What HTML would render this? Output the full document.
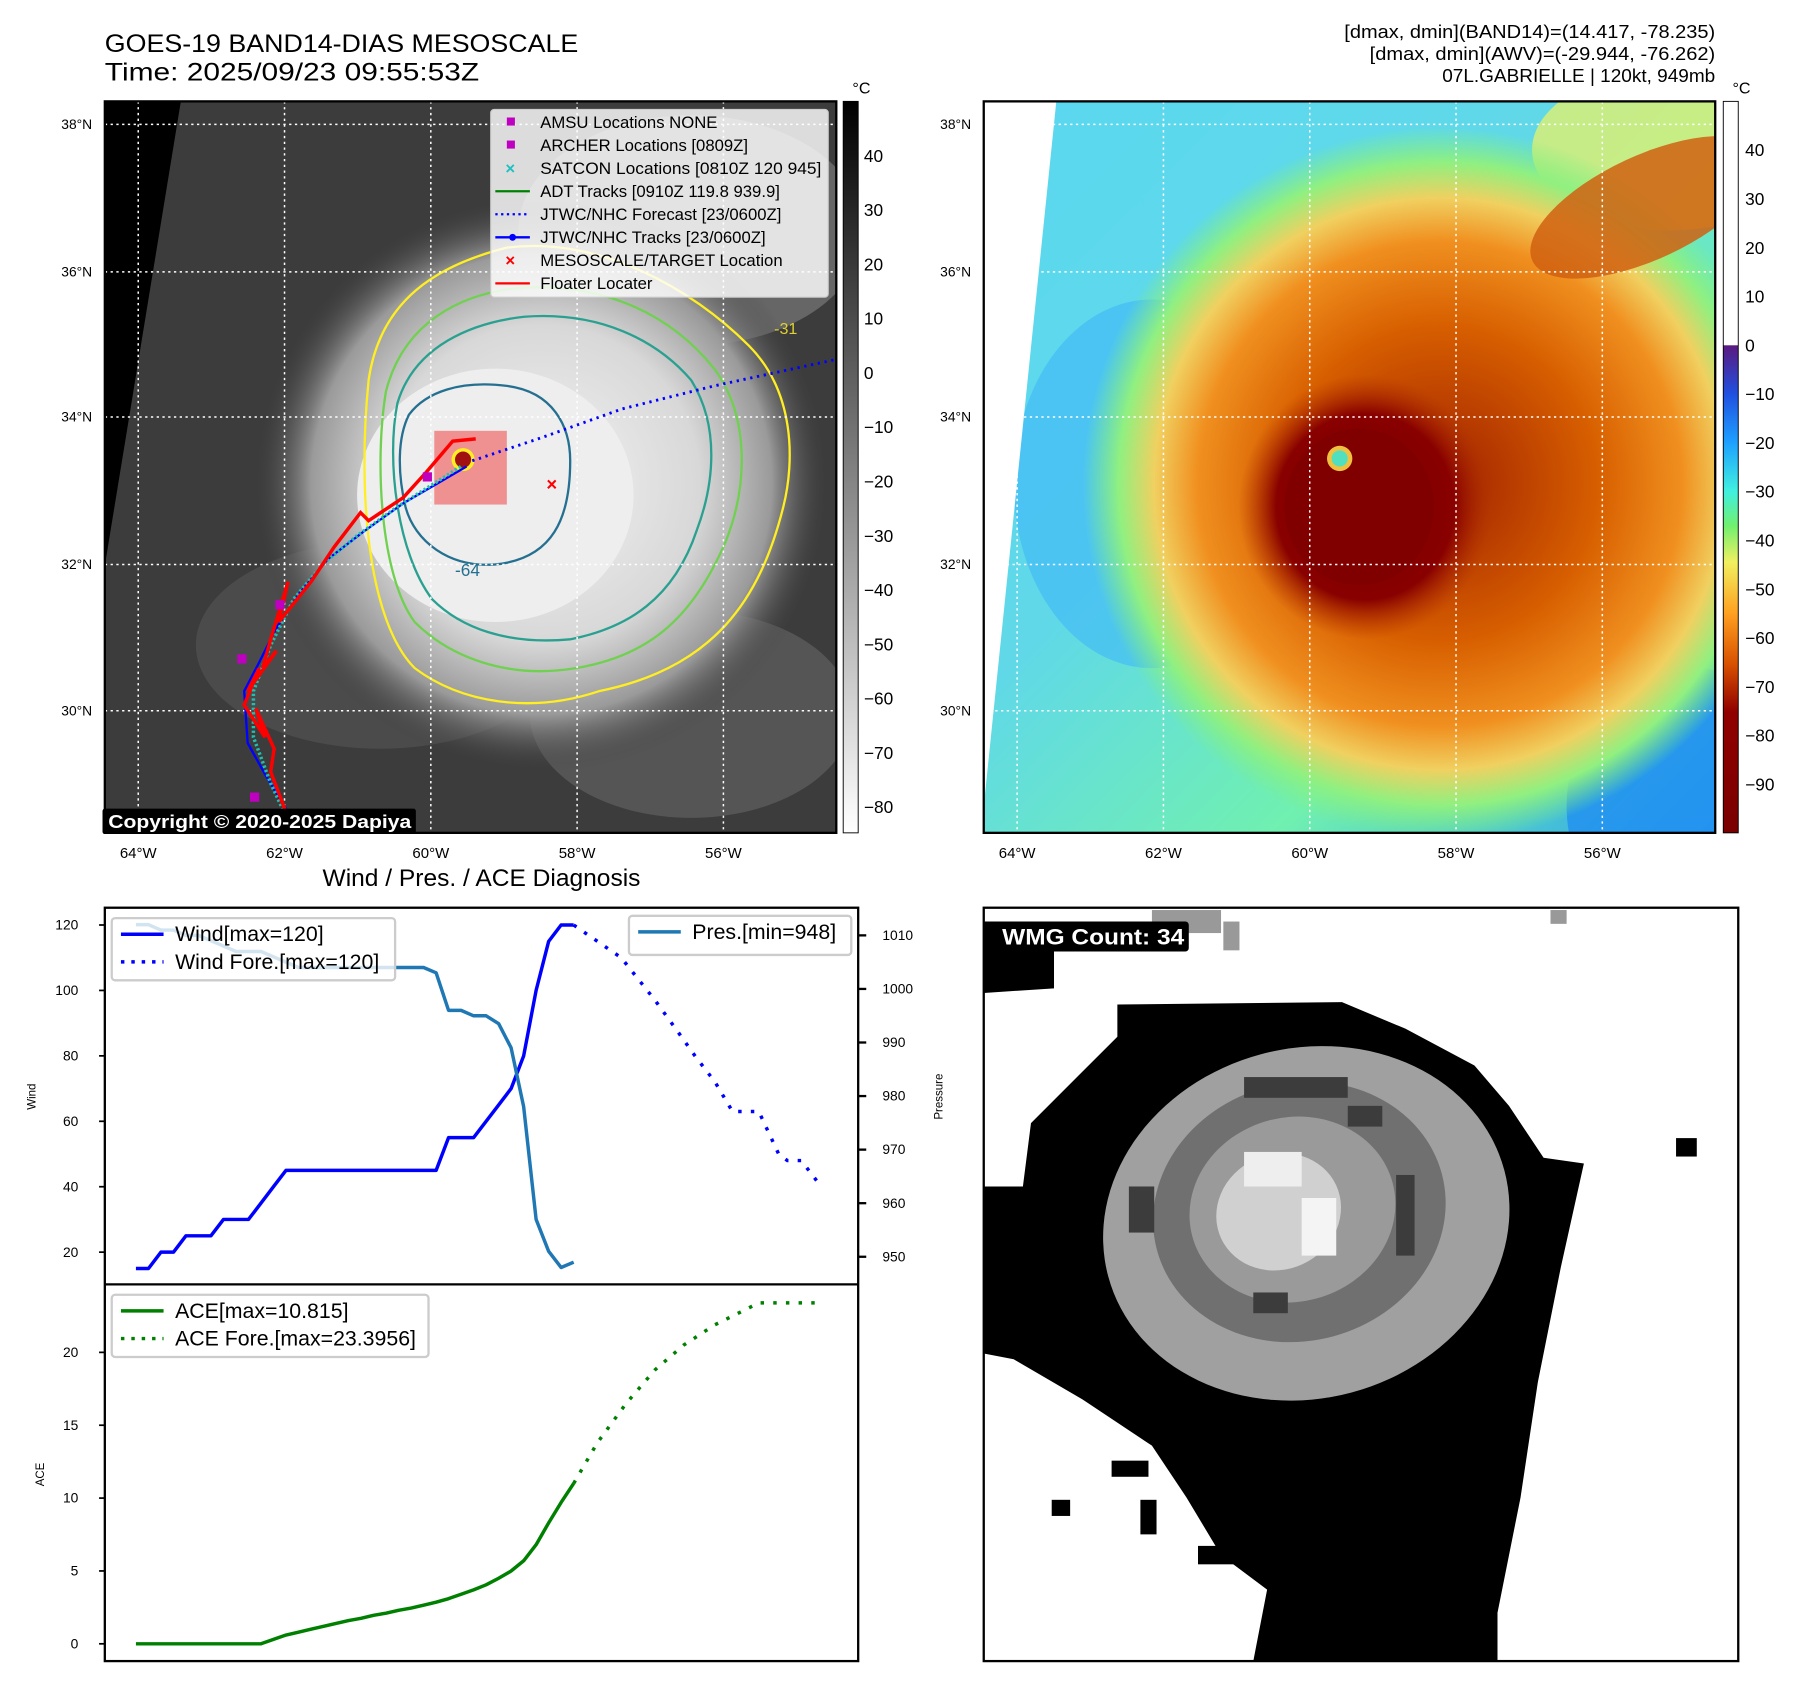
<!DOCTYPE html>
<html><head><meta charset="utf-8"><style>
html,body{margin:0;padding:0;background:#fff;}
svg{display:block;font-family:"Liberation Sans","DejaVu Sans",sans-serif;}
</style></head><body>
<svg id="root" width="1797" height="1690" viewBox="0 0 1560 1467.1" preserveAspectRatio="none" xmlns="http://www.w3.org/2000/svg">
<defs>
<linearGradient id="cb1" x1="0" y1="0" x2="0" y2="1"><stop offset="0" stop-color="#000"/><stop offset="1" stop-color="#fff"/></linearGradient>
<linearGradient id="cb2" x1="0" y1="0" x2="0" y2="1">
<stop offset="0" stop-color="#fff"/><stop offset="0.333" stop-color="#fff"/><stop offset="0.334" stop-color="#5a1a80"/>
<stop offset="0.40" stop-color="#2050e0"/><stop offset="0.466" stop-color="#1ea0ff"/><stop offset="0.533" stop-color="#40f0e0"/>
<stop offset="0.58" stop-color="#70f070"/><stop offset="0.63" stop-color="#f0f060"/><stop offset="0.70" stop-color="#ffa020"/>
<stop offset="0.77" stop-color="#d85000"/><stop offset="0.835" stop-color="#900000"/><stop offset="1" stop-color="#7a0000"/></linearGradient>
<radialGradient id="cloud1" cx="0.5" cy="0.5" r="0.5"><stop offset="0" stop-color="#f4f4f4"/><stop offset="0.55" stop-color="#d8d8d8"/><stop offset="0.8" stop-color="#9a9a9a"/><stop offset="1" stop-color="#3c3c3c" stop-opacity="0"/></radialGradient>
<linearGradient id="bg2" x1="0" y1="0" x2="1" y2="1"><stop offset="0" stop-color="#5ad8f0"/><stop offset="0.4" stop-color="#60d8e8"/><stop offset="0.7" stop-color="#70f0b0"/><stop offset="1" stop-color="#2aa0f0"/></linearGradient>
<radialGradient id="storm2" cx="0.5" cy="0.5" r="0.5"><stop offset="0" stop-color="#a02000"/><stop offset="0.45" stop-color="#d86000"/><stop offset="0.68" stop-color="#f09020"/><stop offset="0.8" stop-color="#f0d060"/><stop offset="0.9" stop-color="#90f080"/><stop offset="1" stop-color="#80f080" stop-opacity="0"/></radialGradient>
<radialGradient id="core2" cx="0.5" cy="0.5" r="0.5"><stop offset="0" stop-color="#800000"/><stop offset="0.7" stop-color="#880000"/><stop offset="1" stop-color="#b03000" stop-opacity="0"/></radialGradient>
<clipPath id="clip1"><rect x="91" y="88" width="635" height="635"/></clipPath>
<clipPath id="clip2"><rect x="854" y="88" width="635" height="635"/></clipPath>
</defs>

<text x="91" y="45" font-size="22" textLength="411" lengthAdjust="spacingAndGlyphs">GOES-19 BAND14-DIAS MESOSCALE</text>
<text x="91" y="70" font-size="22" textLength="325" lengthAdjust="spacingAndGlyphs">Time: 2025/09/23 09:55:53Z</text>
<g font-size="16" text-anchor="end">
<text x="1489" y="33" textLength="322" lengthAdjust="spacingAndGlyphs">[dmax, dmin](BAND14)=(14.417, -78.235)</text>
<text x="1489" y="52" textLength="300" lengthAdjust="spacingAndGlyphs">[dmax, dmin](AWV)=(-29.944, -76.262)</text>
<text x="1489" y="71" textLength="237" lengthAdjust="spacingAndGlyphs">07L.GABRIELLE | 120kt, 949mb</text></g>

<!-- Map 1 -->
<g clip-path="url(#clip1)">
<rect x="91" y="88" width="635" height="635" fill="#3c3c3c"/>
<ellipse cx="330" cy="560" rx="160" ry="90" fill="#555" opacity="0.6"/>
<ellipse cx="600" cy="620" rx="140" ry="90" fill="#666" opacity="0.6"/>
<ellipse cx="600" cy="200" rx="150" ry="100" fill="#777" opacity="0.7"/>
<ellipse cx="470" cy="420" rx="250" ry="250" fill="url(#cloud1)"/>
<ellipse cx="430" cy="430" rx="120" ry="110" fill="#eee"/>
<polygon points="91,88 157,88 91,491" fill="#000"/>
<path d="M320,330 C330,260 380,230 440,215 C520,205 600,250 650,300 C690,340 690,400 680,440 C660,520 620,580 520,600 C460,620 400,610 360,580 C320,540 310,430 320,330 Z" fill="none" stroke="#ffee22" stroke-width="2"/>
<path d="M335,340 C350,280 400,255 450,250 C520,245 580,270 620,320 C650,360 650,420 630,470 C600,540 560,570 500,580 C440,590 390,570 360,540 C330,500 325,400 335,340 Z" fill="none" stroke="#70d050" stroke-width="2"/>
<path d="M345,350 C360,300 410,280 455,275 C520,270 570,295 600,330 C625,370 620,420 605,460 C585,520 545,545 495,555 C440,560 400,545 375,520 C345,480 335,400 345,350 Z" fill="none" stroke="#2aa090" stroke-width="2"/>
<path d="M355,360 C370,340 400,330 440,335 C480,340 495,370 495,400 C495,450 480,485 430,490 C390,493 360,470 352,440 C345,410 345,380 355,360 Z" fill="none" stroke="#257090" stroke-width="2"/>
<rect x="377" y="374" width="63" height="64" fill="#f08080" opacity="0.85"/>
<circle cx="402" cy="399" r="10" fill="#ffee22"/><circle cx="402" cy="399" r="7" fill="#a01010"/>
<g stroke="#fff" stroke-width="1.3" stroke-dasharray="2,3">
<line x1="120" y1="88" x2="120" y2="723"/><line x1="247" y1="88" x2="247" y2="723"/><line x1="374" y1="88" x2="374" y2="723"/><line x1="501" y1="88" x2="501" y2="723"/><line x1="628" y1="88" x2="628" y2="723"/>
<line x1="91" y1="108" x2="726" y2="108"/><line x1="91" y1="236" x2="726" y2="236"/><line x1="91" y1="362" x2="726" y2="362"/><line x1="91" y1="490" x2="726" y2="490"/><line x1="91" y1="617" x2="726" y2="617"/></g>
<polyline points="410,400 470,380 540,355 620,335 726,312" fill="none" stroke="#0000ff" stroke-width="2.5" stroke-dasharray="2,4"/>
<polyline points="405,405 350,437 315,462 285,485 260,515 240,545 225,575 212,600 215,645 230,672 250,705 260,723" fill="none" stroke="#0000ff" stroke-width="2"/>
<polyline points="400,405 345,440 310,465 280,490 255,520 235,560 220,600 220,640 235,680 255,723" fill="none" stroke="#20c0b0" stroke-width="3" stroke-dasharray="2,2"/>
<polyline points="413,381 393,383 370,410 350,432 320,452 313,445 290,475 270,505 242,540 250,505 235,555 228,580 240,565 215,600 225,580 212,612 230,640 222,615 238,650 235,670 255,723" fill="none" stroke="#ff0000" stroke-width="3"/>
<text x="479" y="426" font-size="16" fill="#f00" text-anchor="middle" font-weight="bold">×</text>
<g fill="#c000c0"><rect x="367" y="410" width="8" height="8"/><rect x="206" y="568" width="8" height="8"/><rect x="217" y="688" width="8" height="8"/><rect x="239" y="521" width="8" height="8"/></g>
<text x="672" y="290" font-size="14" fill="#e0d030">-31</text>
<text x="395" y="500" font-size="15" fill="#257090">-64</text>
</g>
<rect x="91" y="88" width="635" height="635" fill="none" stroke="#000" stroke-width="2"/>
<g font-size="14.5">
<rect x="426" y="95" width="293" height="163" rx="3" fill="#fff" fill-opacity="0.82" stroke="#ccc"/>
<rect x="440" y="102" width="7" height="7" fill="#c000c0"/><text x="469" y="111">AMSU Locations NONE</text>
<rect x="440" y="122" width="7" height="7" fill="#c000c0"/><text x="469" y="131">ARCHER Locations [0809Z]</text>
<text x="443" y="151" fill="#20c0c0" text-anchor="middle" font-weight="bold">×</text><text x="469" y="151" textLength="244" lengthAdjust="spacingAndGlyphs">SATCON Locations [0810Z 120 945]</text>
<line x1="430" y1="166" x2="460" y2="166" stroke="#008000" stroke-width="2"/><text x="469" y="171">ADT Tracks [0910Z 119.8 939.9]</text>
<line x1="430" y1="186" x2="460" y2="186" stroke="#0000ff" stroke-width="2" stroke-dasharray="2,3"/><text x="469" y="191">JTWC/NHC Forecast [23/0600Z]</text>
<line x1="430" y1="206" x2="460" y2="206" stroke="#0000ff" stroke-width="2"/><circle cx="445" cy="206" r="3" fill="#00f"/><text x="469" y="211">JTWC/NHC Tracks [23/0600Z]</text>
<text x="443" y="231" fill="#f00" text-anchor="middle" font-weight="bold">×</text><text x="469" y="231">MESOSCALE/TARGET Location</text>
<line x1="430" y1="246" x2="460" y2="246" stroke="#f00" stroke-width="2"/><text x="469" y="251">Floater Locater</text></g>
<rect x="89" y="702" width="272" height="22" rx="2" fill="#000"/>
<text x="94" y="719" font-size="16" font-weight="bold" fill="#fff" textLength="263" lengthAdjust="spacingAndGlyphs">Copyright © 2020-2025 Dapiya</text>
<rect x="732" y="88" width="13" height="635" fill="url(#cb1)" stroke="#000" stroke-width="0.8"/>
<text x="740" y="81" font-size="14">°C</text>
<g id="cb1labels" font-size="15"></g>

<!-- Map 2 -->
<g clip-path="url(#clip2)">
<rect x="854" y="88" width="635" height="635" fill="url(#bg2)"/>
<ellipse cx="1000" cy="420" rx="120" ry="160" fill="#40b8f8" opacity="0.6"/>
<ellipse cx="1470" cy="700" rx="110" ry="120" fill="#2090f0" opacity="0.8"/>
<ellipse cx="1450" cy="130" rx="120" ry="70" fill="#e0f070" opacity="0.8"/>
<ellipse cx="1250" cy="420" rx="310" ry="310" fill="url(#storm2)"/>
<ellipse cx="1430" cy="180" rx="110" ry="45" fill="#d06010" opacity="0.85" transform="rotate(-25 1430 180)"/>
<ellipse cx="1185" cy="440" rx="110" ry="115" fill="url(#core2)"/>
<ellipse cx="1180" cy="440" rx="65" ry="68" fill="#800000"/>
<circle cx="1163" cy="398" r="11" fill="#f0c040"/><circle cx="1163" cy="398" r="7" fill="#50e0c0"/>
<polygon points="854,88 917,88 854,700" fill="#fff"/>
<g stroke="#fff" stroke-width="1.3" stroke-dasharray="2,3">
<line x1="883" y1="88" x2="883" y2="723"/><line x1="1010" y1="88" x2="1010" y2="723"/><line x1="1137" y1="88" x2="1137" y2="723"/><line x1="1264" y1="88" x2="1264" y2="723"/><line x1="1391" y1="88" x2="1391" y2="723"/>
<line x1="854" y1="108" x2="1489" y2="108"/><line x1="854" y1="236" x2="1489" y2="236"/><line x1="854" y1="362" x2="1489" y2="362"/><line x1="854" y1="490" x2="1489" y2="490"/><line x1="854" y1="617" x2="1489" y2="617"/></g>
</g>
<rect x="854" y="88" width="635" height="635" fill="none" stroke="#000" stroke-width="2"/>
<rect x="1496" y="88" width="13" height="635" fill="url(#cb2)" stroke="#000" stroke-width="0.8"/>
<text x="1504" y="81" font-size="14">°C</text>
<g id="cb2labels" font-size="15"></g>

<g id="maplabels"></g>

<!-- WMG panel -->
<g>
<rect x="854" y="788" width="655" height="654" fill="#fff"/>
<polygon points="970,872 1165,870 1220,893 1280,925 1310,960 1340,1005 1375,1010 1355,1100 1335,1200 1320,1300 1300,1400 1300,1442 1088,1442 1100,1380 1060,1350 1030,1300 1000,1255 940,1215 880,1180 854,1175 854,1030 888,1030 895,975 940,930 970,900" fill="#000"/>
<polygon points="854,800 915,800 915,858 854,862" fill="#000"/>
<rect x="965" y="1268" width="32" height="14" fill="#000"/><rect x="913" y="1302" width="16" height="14" fill="#000"/><rect x="990" y="1302" width="14" height="30" fill="#000"/><rect x="1040" y="1342" width="32" height="16" fill="#000"/><rect x="1455" y="988" width="18" height="16" fill="#000"/>
<rect x="1062" y="800" width="14" height="25" fill="#999"/><rect x="1346" y="790" width="14" height="12" fill="#999"/><rect x="1000" y="790" width="60" height="20" fill="#999"/>
<ellipse cx="1134" cy="1062" rx="178" ry="152" fill="#a0a0a0" transform="rotate(-15 1134 1062)"/>
<ellipse cx="1128" cy="1052" rx="128" ry="112" fill="#707070" transform="rotate(-15 1128 1052)"/>
<ellipse cx="1122" cy="1050" rx="90" ry="80" fill="#9a9a9a" transform="rotate(-15 1122 1050)"/>
<ellipse cx="1110" cy="1052" rx="55" ry="50" fill="#d0d0d0" transform="rotate(-25 1110 1052)"/>
<rect x="1080" y="1000" width="50" height="30" fill="#eee"/><rect x="1130" y="1040" width="30" height="50" fill="#f4f4f4"/>
<rect x="1080" y="935" width="90" height="18" fill="#3c3c3c"/><rect x="1170" y="960" width="30" height="18" fill="#3c3c3c"/>
<rect x="1212" y="1020" width="16" height="70" fill="#3c3c3c"/><rect x="980" y="1030" width="22" height="40" fill="#3c3c3c"/>
<rect x="1088" y="1122" width="30" height="18" fill="#3c3c3c"/>
<rect x="862" y="800" width="170" height="26" rx="3" fill="#000"/>
<text x="870" y="820" font-size="19" font-weight="bold" fill="#fff" textLength="158" lengthAdjust="spacingAndGlyphs">WMG Count: 34</text>
<rect x="854" y="788" width="655" height="654" fill="none" stroke="#000" stroke-width="2"/>
</g>

<text x="418" y="769" font-size="21" text-anchor="middle" textLength="276" lengthAdjust="spacingAndGlyphs">Wind / Pres. / ACE Diagnosis</text>
<g id="chart"></g>
</svg>
<script>
// ---- chart data ----
const obsIndex = [0,1,2,3,4,5,6,7,8,9,10,11,12,13,14,15,16,17,18,19,20,21,22,23,24,25,26,27,28,29,30,31,32,33,34,35];
const windObs = [15,15,20,20,25,25,25,30,30,30,35,40,45,45,45,45,45,45,45,45,45,45,45,45,45,55,55,55,60,65,70,80,100,115,120,120];
const presObs = [1012,1012,1011,1011,1010,1010,1009,1008,1007,1007,1007,1006,1005,1004,1004,1004,1004,1004,1004,1004,1004,1004,1004,1004,1003,996,996,995,995,993.5,989,978,957,951,948,949];
const aceObs = [0,0,0,0,0,0,0,0,0,0,0,0.3,0.6,0.8,1.0,1.2,1.4,1.6,1.75,1.95,2.1,2.3,2.45,2.65,2.85,3.1,3.4,3.7,4.05,4.5,5.0,5.7,6.8,8.3,9.7,11.0];
const windFcIndex = [35,38.8,41.5,43.4,44.7,46.3,47.7,49.8,51.4,52.1,53.2,54.6];
const windFc = [120,110,97,87,80,72,63,63,50,48,48,41];
const aceFcIndex = [35,36.9,39.2,41.5,43.8,46.3,48.9,49.8,54.3];
const aceFc = [11,13.8,16.5,18.8,20.5,21.9,23.0,23.4,23.4];
const windTicks = [20,40,60,80,100,120];
const presTicks = [950,960,970,980,990,1000,1010];
const aceTicks = [0,5,10,15,20];
const cb1Ticks = [40,30,20,10,0,-10,-20,-30,-40,-50,-60,-70,-80];
const cb2Ticks = [40,30,20,10,0,-10,-20,-30,-40,-50,-60,-70,-80,-90];
const lonTicks = ["64°W","62°W","60°W","58°W","56°W"];
const latTicks = ["38°N","36°N","34°N","32°N","30°N"];

const NS='http://www.w3.org/2000/svg';
function mk(tag,attrs,parent){const e=document.createElementNS(NS,tag);for(const k in attrs)e.setAttribute(k,attrs[k]);parent.appendChild(e);return e;}
const X0=91,X1=745,TOP=788,MID=1115,BOT=1442;
const xs=i=>118+i*10.857;
const yW=v=>803+(120-v)*(1087-803)/100;
const yP=v=>812+(1010-v)*(1091-812)/60;
const yA=v=>1427-v*(1427-1174)/20;
const chart=document.getElementById('chart');

function line(xsArr,ys,fx,fy,color,dash,name){
  const pts=xsArr.map((x,i)=>fx(x).toFixed(1)+','+fy(ys[i]).toFixed(1)).join(' ');
  const p=mk('polyline',{points:pts,fill:'none',stroke:color,'stroke-width':3,'stroke-linejoin':'round'},chart);
  if(dash)p.setAttribute('stroke-dasharray',dash);
  
  
}
mk('rect',{x:X0,y:TOP,width:X1-X0,height:BOT-TOP,fill:'#fff'},chart);
line(obsIndex,windObs,xs,yW,'#0000ff',null,'wind-line');
line(windFcIndex,windFc,xs,yW,'#0000ff','3,8','wind-forecast-line');
line(obsIndex,presObs,xs,yP,'#1f77b4',null,'pressure-line');
line(obsIndex,aceObs,xs,yA,'#008000',null,'ace-line');
line(aceFcIndex,aceFc,xs,yA,'#008000','3,8','ace-forecast-line');
mk('rect',{x:X0,y:TOP,width:X1-X0,height:BOT-TOP,fill:'none',stroke:'#000','stroke-width':2},chart);
mk('line',{x1:X0,y1:MID,x2:X1,y2:MID,stroke:'#000','stroke-width':2},chart);

function ticks(arr,fy,side){
  arr.forEach(v=>{const y=fy(v);
    if(side==='L'){mk('line',{x1:X0-5,y1:y,x2:X0,y2:y,stroke:'#000','stroke-width':1.5},chart);
      const t=mk('text',{x:X0-23,y:y+4,'font-size':12,'text-anchor':'end'},chart);t.textContent=v;
      
      }
    else{mk('line',{x1:X1,y1:y,x2:X1+7,y2:y,stroke:'#000','stroke-width':2},chart);
      const t=mk('text',{x:X1+21,y:y+4,'font-size':12},chart);t.textContent=v;
      
      }
  });
}
ticks(windTicks,yW,'L');ticks(presTicks,yP,'R');ticks(aceTicks,yA,'L');
function vlabel(txt,x,y,name){const t=mk('text',{x:x,y:y,'font-size':10,'text-anchor':'middle',transform:'rotate(-90 '+x+' '+y+')'},chart);t.textContent=txt;
  
  }
vlabel('Wind',31,952,'wind-axis-title');vlabel('Pressure',818,952,'pressure-axis-title');vlabel('ACE',38,1280,'ace-axis-title');

function legend(x,y,w,h,items,name){
  const g=mk('g',{},chart);
  
  
  mk('rect',{x:x,y:y,width:w,height:h,rx:3,fill:'#fff','fill-opacity':0.8,stroke:'#ccc','stroke-width':2},g);
  items.forEach((it,i)=>{const cy=y+14+i*24;
    const l=mk('line',{x1:x+8,y1:cy,x2:x+45,y2:cy,stroke:it[1],'stroke-width':3},g);
    if(it[2])l.setAttribute('stroke-dasharray','3,6');
    const t=mk('text',{x:x+55,y:cy+6,'font-size':18.5},g);t.textContent=it[0];});
}
legend(97,797,246,54,[['Wind[max=120]','#0000ff',0],['Wind Fore.[max=120]','#0000ff',1]],'wind-legend');
legend(546,795,193,34,[['Pres.[min=948]','#1f77b4',0]],'pressure-legend');
legend(97,1124,275,54,[['ACE[max=10.815]','#008000',0],['ACE Fore.[max=23.3956]','#008000',1]],'ace-legend');

const cb1=document.getElementById('cb1labels');
cb1Ticks.forEach(v=>{const y=324-v*4.71;const t=mk('text',{x:750,y:y+5},cb1);t.textContent=(v<0?'\u2212'+(-v):v);});
const cb2=document.getElementById('cb2labels');
cb2Ticks.forEach(v=>{const y=300-v*4.235;const t=mk('text',{x:1515,y:y+5},cb2);t.textContent=(v<0?'\u2212'+(-v):v);});
const ml=document.getElementById('maplabels');
const lonX=[120,247,374,501,628], latY=[108,236,362,490,617];
[0,763].forEach(off=>{
  lonTicks.forEach((s,i)=>{const t=mk('text',{x:lonX[i]+off,y:745,'text-anchor':'middle','font-size':13},ml);t.textContent=s;});
  latTicks.forEach((s,i)=>{const t=mk('text',{x:off+80,y:latY[i]+4,'text-anchor':'end','font-size':12},ml);t.textContent=s;});
});
</script>
</body></html>
